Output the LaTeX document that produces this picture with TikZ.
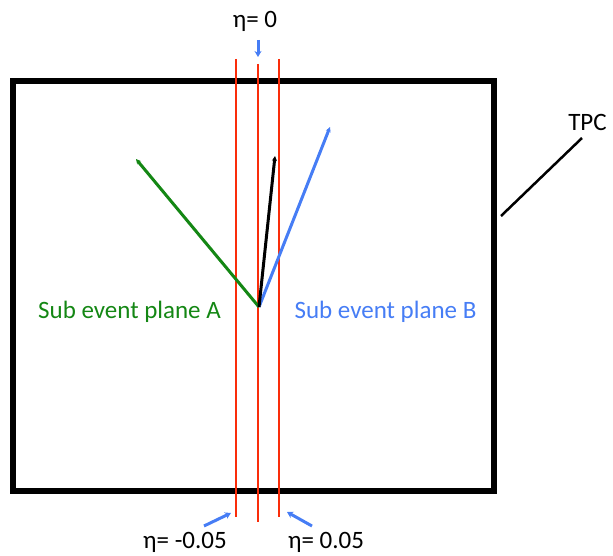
\documentclass[tikz,border=0pt]{standalone}
\usepackage{fontspec}
\setmainfont{Carlito}
\usetikzlibrary{arrows.meta}

\definecolor{planeA}{RGB}{20,135,20}
\definecolor{planeB}{RGB}{70,125,245}
\definecolor{etared}{RGB}{250,45,10}

\begin{document}
\begin{tikzpicture}[
  x=1pt, y=-1pt,
  lbl/.style={font=\fontsize{25}{30}\selectfont, anchor=base, inner sep=0pt},
  etaline/.style={etared, line width=2pt},
  vec/.style={line width=3pt, -{Stealth[length=5pt,width=5pt]}},
  pointer/.style={planeB, line width=3pt, -{Stealth[length=6pt,width=7pt]}}
]
\useasboundingbox (0,0) rectangle (613,556);

% TPC volume
\draw[line width=6.5pt] (13,81) rectangle (494,491);

% eta slices
\coordinate (lt) at (236,59);  \coordinate (lb) at (236,517);
\coordinate (mt) at (258,64);  \coordinate (mb) at (258,522);
\coordinate (rt) at (279,59);  \coordinate (rb) at (279,517);
\draw[etaline] (lt) -- (lb);
\draw[etaline] (mt) -- (mb);
\draw[etaline] (rt) -- (rb);

% vectors
\coordinate (orig) at (259,307);
\coordinate (qa) at (136,159);
\coordinate (qb) at (330,127);
\coordinate (qf) at (275,156);
\draw[vec, planeA] (orig) -- (qa);
\draw[vec, planeB] (orig) -- (qb);
\draw[vec, black] (orig) -- (qf);

% labels
\node[lbl, text=planeA] (subA) at (129.5,318) {Sub event plane A};
\node[lbl, text=planeB] (subB) at (385.5,318) {Sub event plane B};
\node[lbl] (eta0) at (255,28) {η= 0};
\node[lbl] (etam) at (185,548) {η= -0.05};
\node[lbl] (etap) at (326,548) {η= 0.05};
\node[lbl] (tpc) at (587.5,131) {TPC};

\coordinate (p0) at (258,40);
\draw[pointer] (p0) -- (258,57);
\coordinate (pm) at (204,526);
\draw[pointer] (pm) -- (231,513);
\coordinate (pp) at (312,526);
\draw[pointer] (pp) -- (287,512);

\coordinate (tpcend) at (501,216);
\draw[line width=2.5pt] (582,138) -- (tpcend);
\end{tikzpicture}
\end{document}
